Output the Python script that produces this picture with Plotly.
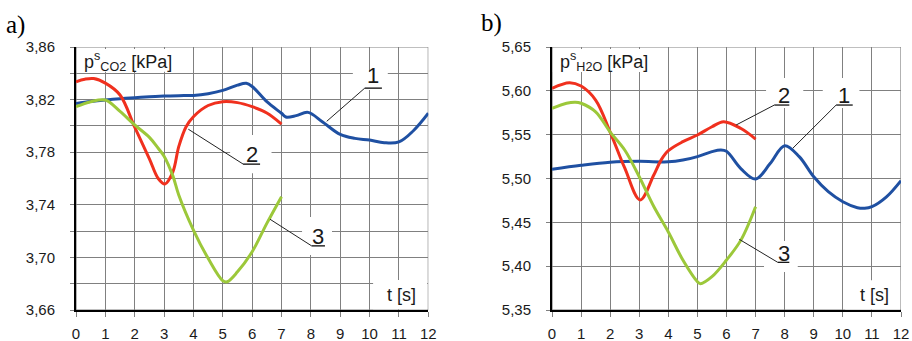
import plotly.graph_objects as go

# ---- panel a): CO2 saturation pressure ----
t_co2_1 = [0, 0.5, 1, 1.5, 2, 2.5, 3, 3.5, 4, 4.5, 5, 5.5, 5.8, 6, 6.5, 7, 7.15, 7.5, 7.9, 8.4, 9, 9.5, 10, 10.5, 11, 11.5, 12]
p_co2_1 = [3.817, 3.8185, 3.8197, 3.8207, 3.8215, 3.8222, 3.8227, 3.823, 3.8232, 3.8245, 3.827, 3.831, 3.8324, 3.830,
           3.8184, 3.8096, 3.8068, 3.8078, 3.8103, 3.803, 3.7935, 3.7905, 3.7892, 3.7872, 3.7878, 3.7965, 3.8096]

t_co2_2 = [0, 0.3, 0.6, 1, 1.5, 2, 2.5, 2.8, 3.03, 3.3, 3.5, 3.75, 4, 4.5, 5, 5.5, 6, 6.5, 7]
p_co2_2 = [3.8336, 3.8355, 3.836, 3.8325, 3.8235, 3.799, 3.775, 3.760, 3.7558, 3.765, 3.7842, 3.7994, 3.807,
           3.8155, 3.8184, 3.8177, 3.8146, 3.8098, 3.8014]

t_co2_3 = [0, 0.5, 1, 1.5, 2, 2.5, 2.8, 3, 3.3, 3.5, 4, 4.5, 5, 5.15, 5.5, 6, 6.5, 7]
p_co2_3 = [3.8146, 3.8184, 3.8197, 3.811, 3.8007, 3.7913, 3.783, 3.777, 3.762, 3.7475, 3.7208, 3.6993, 3.6823,
           3.6815, 3.689, 3.7043, 3.7259, 3.7462]

# ---- panel b): H2O saturation pressure ----
t_h2o_1 = [0, 1, 2, 3, 4, 4.5, 5, 5.5, 5.8, 6, 6.5, 7, 7.5, 8, 8.5, 9, 9.5, 10, 10.5, 10.75, 11, 11.5, 12]
p_h2o_1 = [5.5105, 5.515, 5.5185, 5.5196, 5.519, 5.521, 5.525, 5.5306, 5.5325, 5.531, 5.511, 5.4994, 5.517,
           5.5374, 5.525, 5.502, 5.485, 5.4735, 5.4667, 5.466, 5.4678, 5.479, 5.4975]

t_h2o_2 = [0, 0.6, 1, 1.5, 2, 2.5, 3.03, 3.5, 3.75, 4, 4.5, 5, 5.5, 5.9, 6.5, 7]
p_h2o_2 = [5.6029, 5.6093, 5.6055, 5.5895, 5.553, 5.512, 5.4755, 5.504, 5.521, 5.5317, 5.542, 5.5496, 5.559,
           5.5648, 5.557, 5.545]

t_h2o_3 = [0, 0.5, 0.8, 1, 1.5, 2, 2.5, 3, 3.5, 4, 4.5, 5, 5.1, 5.5, 6, 6.5, 7]
p_h2o_3 = [5.58, 5.5858, 5.587, 5.5858, 5.576, 5.553, 5.5325, 5.502, 5.468, 5.439, 5.407, 5.3823, 5.380,
           5.388, 5.407, 5.43, 5.4678]

x_ticks = list(range(0, 13))
co2_ticks = [3.66, 3.70, 3.74, 3.78, 3.82, 3.86]
h2o_ticks = [5.35, 5.40, 5.45, 5.50, 5.55, 5.60, 5.65]

BLUE = "#1f50a2"
RED = "#f0301e"
GREEN = "#9cc83a"
GRID = "#808080"
FONT = "Liberation Sans, Arial, sans-serif"

fig = go.Figure()

def add_curve(t, p, color, xa, ya):
    fig.add_trace(go.Scatter(x=t, y=p, mode="lines", xaxis=xa, yaxis=ya,
                             line=dict(color=color, width=3, shape="spline", smoothing=1.0),
                             showlegend=False, hoverinfo="skip"))

add_curve(t_co2_1, p_co2_1, BLUE, "x", "y")
add_curve(t_co2_2, p_co2_2, RED, "x", "y")
add_curve(t_co2_3, p_co2_3, GREEN, "x", "y")
add_curve(t_h2o_1, p_h2o_1, BLUE, "x2", "y2")
add_curve(t_h2o_2, p_h2o_2, RED, "x2", "y2")
add_curve(t_h2o_3, p_h2o_3, GREEN, "x2", "y2")

W, H = 912, 341
y_dom = [31 / H, 294 / H]

xaxis_common = dict(range=[0, 12], tickvals=x_ticks, showgrid=True, gridcolor=GRID, gridwidth=1.2,
                    ticks="outside", ticklen=5, tickcolor=GRID, tickwidth=1.2,
                    showline=True, linecolor="black", linewidth=2, zeroline=False,
                    tickfont=dict(family=FONT, size=15, color="#1a1a1a"), ticklabelstandoff=4,
                    automargin=False, fixedrange=True)
yaxis_common = dict(showgrid=True, gridcolor=GRID, gridwidth=1.2,
                    ticks="outside", ticklen=4, tickcolor=GRID, tickwidth=1.2,
                    showline=True, linecolor="black", linewidth=2, zeroline=False,
                    tickfont=dict(family=FONT, size=15, color="#1a1a1a"), ticklabelstandoff=12,
                    tickformat=".2f", automargin=False, fixedrange=True)

fig.update_layout(
    width=W, height=H, margin=dict(l=0, r=0, t=0, b=0, autoexpand=False),
    paper_bgcolor="white", plot_bgcolor="white", separators=", ",
    xaxis=dict(domain=[76 / W, 428.3 / W], anchor="y", **xaxis_common),
    yaxis=dict(domain=y_dom, anchor="x", range=[3.66, 3.86], tickvals=co2_ticks,
               minor=dict(dtick=0.02, tick0=3.66, showgrid=True, gridcolor=GRID, gridwidth=1.2,
                          ticks="outside", ticklen=4, tickcolor=GRID, tickwidth=1.2),
               **yaxis_common),
    xaxis2=dict(domain=[552 / W, 901 / W], anchor="y2", **xaxis_common),
    yaxis2=dict(domain=y_dom, anchor="x2", range=[5.35, 5.65], tickvals=h2o_ticks, **yaxis_common),
)

shapes = []
# frame (top and right edges in grid colour)
for xr, yr, y0, y1 in (("x", "y", 3.66, 3.86), ("x2", "y2", 5.35, 5.65)):
    shapes.append(dict(type="rect", xref=xr, yref=yr, x0=0, x1=12, y0=y0, y1=y1,
                       line=dict(color=GRID, width=1.2), fillcolor="rgba(0,0,0,0)", layer="between"))

# white label backgrounds that hide the grid
boxes = [
    ("x", "y", 0.03, 3.27, 3.8585, 3.8412),   # axis title
    ("x", "y", 9.43, 10.62, 3.8412, 3.8273),  # 1
    ("x", "y", 5.25, 6.66, 3.793, 3.764),     # 2
    ("x", "y", 7.70, 8.72, 3.7307, 3.7018),   # 3
    ("x", "y", 10.12, 11.96, 3.6828, 3.6605), # t [s]
    ("x2", "y2", 0.03, 3.37, 5.6477, 5.6214),
    ("x2", "y2", 9.31, 10.57, 5.6146, 5.5804),
    ("x2", "y2", 7.36, 8.64, 5.6146, 5.5804),
    ("x2", "y2", 7.29, 8.45, 5.4287, 5.3934),
    ("x2", "y2", 10.08, 11.97, 5.384, 5.3505),
]
for xr, yr, x0, x1, y0, y1 in boxes:
    shapes.append(dict(type="rect", xref=xr, yref=yr, x0=x0, x1=x1, y0=y0, y1=y1,
                       line=dict(width=0), fillcolor="white", layer="between"))

# leader lines with underlines: (axes, underline x0, x1, y, curve point x, y)
leaders = [
    ("x", "y", 9.84, 10.42, 3.8288, 8.54, 3.8035),
    ("x", "y", 5.69, 6.27, 3.771, 3.825, 3.7975),
    ("x", "y", 8.03, 8.48, 3.7087, 6.61, 3.729),
    ("x2", "y2", 7.645, 8.16, 5.5838, 6.33, 5.561),
    ("x2", "y2", 9.77, 10.34, 5.5838, 8.28, 5.5345),
    ("x2", "y2", 7.76, 8.16, 5.4044, 6.44, 5.4306),
]
for xr, yr, ux0, ux1, uy, cx, cy in leaders:
    shapes.append(dict(type="line", xref=xr, yref=yr, x0=ux0, x1=ux1, y0=uy, y1=uy,
                       line=dict(color="black", width=1.2), layer="above"))
    shapes.append(dict(type="line", xref=xr, yref=yr, x0=ux0, x1=cx, y0=uy, y1=cy,
                       line=dict(color="#222222", width=1), layer="above"))

fig.update_layout(shapes=shapes)

ann = []
def label(text, xr, yr, x, y, size, xanchor="center"):
    ann.append(dict(text=text, xref=xr, yref=yr, x=x, y=y, showarrow=False, xanchor=xanchor,
                    yanchor="middle", font=dict(family=FONT, size=size, color="#1a1a1a")))

label("p<sup>s</sup><sub>CO2</sub> [kPa]", "x", "y", 0.2, 3.8488, 18, "left")
label("1", "x", "y", 10.12, 3.838, 22)
label("2", "x", "y", 5.995, 3.7785, 22)
label("3", "x", "y", 8.25, 3.7158, 22)
label("t [s]", "x", "y", 11.09, 3.6714, 18)

label("p<sup>s</sup><sub>H2O</sub> [kPa]", "x2", "y2", 0.22, 5.633, 18, "left")
label("2", "x2", "y2", 7.99, 5.5952, 22)
label("1", "x2", "y2", 10.05, 5.5952, 22)
label("3", "x2", "y2", 7.99, 5.415, 22)
label("t [s]", "x2", "y2", 11.08, 5.367, 18)

for txt, px, py in (("a)", 15, 25), ("b)", 491, 23)):
    ann.append(dict(text=txt, xref="paper", yref="paper", x=px / W, y=1 - py / H, showarrow=False,
                    xanchor="center", yanchor="middle",
                    font=dict(family="Liberation Serif, Times New Roman, serif", size=25, color="black")))

fig.update_layout(annotations=ann)

fig.write_html("out.html")
